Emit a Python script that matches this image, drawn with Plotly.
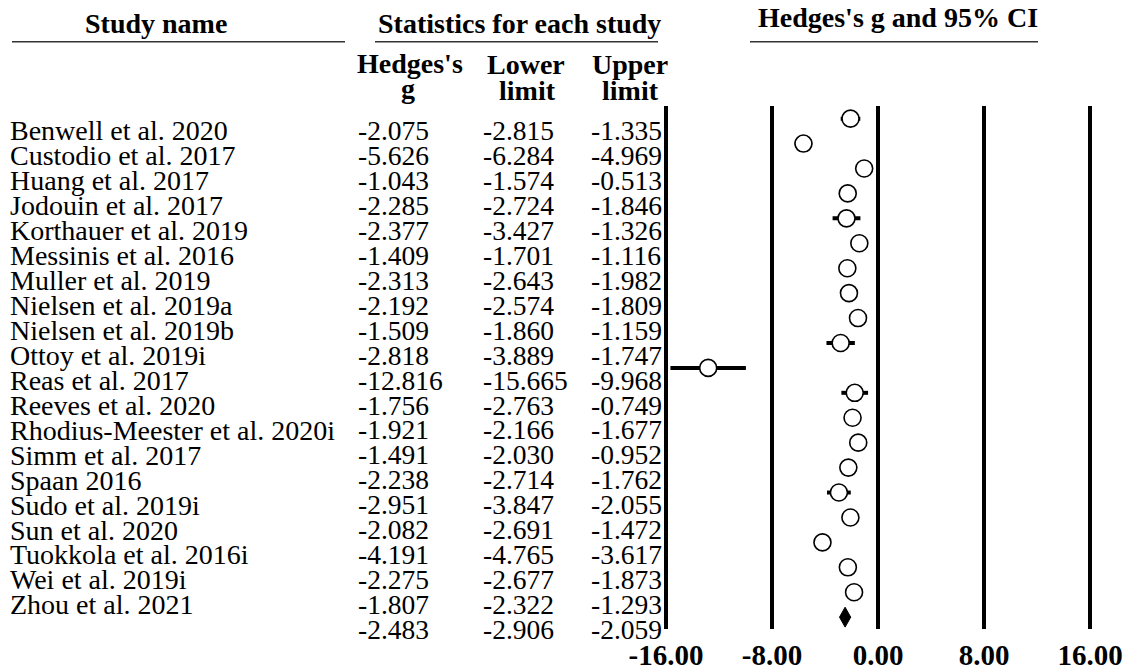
import plotly.graph_objects as go

# ---------------- data ----------------
STUDIES = [
    "Benwell et al. 2020", "Custodio et al. 2017", "Huang et al. 2017", "Jodouin et al. 2017",
    "Korthauer et al. 2019", "Messinis et al. 2016", "Muller et al. 2019", "Nielsen et al. 2019a",
    "Nielsen et al. 2019b", "Ottoy et al. 2019i", "Reas et al. 2017", "Reeves et al. 2020",
    "Rhodius-Meester et al. 2020i", "Simm et al. 2017", "Spaan 2016", "Sudo et al. 2019i",
    "Sun et al. 2020", "Tuokkola et al. 2016i", "Wei et al. 2019i", "Zhou et al. 2021",
]
HEDGES_G = [-2.075, -5.626, -1.043, -2.285, -2.377, -1.409, -2.313, -2.192, -1.509, -2.818,
            -12.816, -1.756, -1.921, -1.491, -2.238, -2.951, -2.082, -4.191, -2.275, -1.807]
LOWER = [-2.815, -6.284, -1.574, -2.724, -3.427, -1.701, -2.643, -2.574, -1.860, -3.889,
         -15.665, -2.763, -2.166, -2.030, -2.714, -3.847, -2.691, -4.765, -2.677, -2.322]
UPPER = [-1.335, -4.969, -0.513, -1.846, -1.326, -1.116, -1.982, -1.809, -1.159, -1.747,
         -9.968, -0.749, -1.677, -0.952, -1.762, -2.055, -1.472, -3.617, -1.873, -1.293]
SUMMARY_G = -2.483
SUMMARY_LOWER = -2.906
SUMMARY_UPPER = -2.059
AXIS_TICKS = [-16, -8, 0, 8, 16]

# ---------------- geometry ----------------
W, H = 1137, 671
ZERO_PX, PX_PER_UNIT = 878.0, 13.25
ROW_PX = 25.0
FOREST_TOP, FOREST_BOT = 106.5, 630.5
TEXT_ROW0, TEXT_DY = 133.3, 25.05
SERIF = "Liberation Serif, Times New Roman, serif"

n = len(STUDIES)
rows = list(range(n))
summary_row = n

fig = go.Figure()

# CI lines + open circles
fig.add_trace(go.Scatter(
    x=HEDGES_G, y=rows, mode="markers",
    marker=dict(symbol="circle", size=17, color="white", line=dict(color="black", width=1.6)),
    error_x=dict(type="data", symmetric=False,
                 array=[u - g for u, g in zip(UPPER, HEDGES_G)],
                 arrayminus=[g - l for g, l in zip(HEDGES_G, LOWER)],
                 color="black", thickness=4, width=0),
    cliponaxis=False, hoverinfo="skip", showlegend=False,
    xaxis="x", yaxis="y",
))
# summary diamond
fig.add_trace(go.Scatter(
    x=[SUMMARY_LOWER, SUMMARY_G, SUMMARY_UPPER, SUMMARY_G, SUMMARY_LOWER],
    y=[summary_row, summary_row - 0.4, summary_row, summary_row + 0.4, summary_row],
    mode="lines", fill="toself", fillcolor="black",
    line=dict(color="black", width=1), hoverinfo="skip", showlegend=False,
    xaxis="x", yaxis="y",
))

# table columns (text)
def fmt(v):
    return f"{v:.3f}"

col_font = dict(family=SERIF, size=27.5, color="black")
fig.add_trace(go.Scatter(
    x=[10] * n, y=rows, text=STUDIES, mode="text", textposition="middle right",
    textfont=dict(family=SERIF, size=28, color="black"),
    cliponaxis=False, hoverinfo="skip", showlegend=False, xaxis="x2", yaxis="y3"))
for xpos, vals, summ in [(358, HEDGES_G, SUMMARY_G), (483, LOWER, SUMMARY_LOWER), (591, UPPER, SUMMARY_UPPER)]:
    fig.add_trace(go.Scatter(
        x=[xpos] * (n + 1), y=rows + [summary_row], text=[fmt(v) for v in vals] + [fmt(summ)],
        mode="text", textposition="middle right", textfont=col_font,
        cliponaxis=False, hoverinfo="skip", showlegend=False, xaxis="x2", yaxis="y3"))

# ---------------- headers ----------------
def px_x(p):
    return p / W

def px_y(p):
    return 1 - p / H

hdr_font = dict(family=SERIF, size=28, color="black", weight="bold")
headers = [
    ("Study name", 156, 23.5),
    ("Statistics for each study", 519.5, 24),
    ("Hedges's g and 95% CI", 898, 17.5),
    ("Hedges's", 410, 64),
    ("g", 408, 89),
    ("Lower", 526, 64.5),
    ("limit", 527, 90.5),
    ("Upper", 630, 64.5),
    ("limit", 630, 90.5),
]
annotations = []
for txt, x, y in headers:
    annotations.append(dict(text=txt, x=px_x(x), y=px_y(y), xref="paper", yref="paper",
                            xanchor="center", yanchor="middle", showarrow=False, font=hdr_font))

shapes = []
for x0, x1 in [(12, 345), (375, 658), (750, 1038)]:
    shapes.append(dict(type="line", xref="paper", yref="paper", x0=px_x(x0), x1=px_x(x1),
                       y0=px_y(42), y1=px_y(42), line=dict(color="#333333", width=1.5)))

fig.update_layout(
    width=W, height=H, margin=dict(l=0, r=0, t=0, b=0),
    paper_bgcolor="white", plot_bgcolor="rgba(0,0,0,0)",
    annotations=annotations, shapes=shapes,
    xaxis=dict(domain=[0, 1], range=[(0 - ZERO_PX) / PX_PER_UNIT, (W - ZERO_PX) / PX_PER_UNIT],
               tickvals=AXIS_TICKS, ticktext=[f"{t:.2f}" for t in AXIS_TICKS],
               tickfont=dict(family=SERIF, size=29, color="black", weight="bold"),
               showgrid=True, gridcolor="black", gridwidth=3.5, zeroline=False, showline=False,
               ticks="", ticklabelstandoff=6, fixedrange=True, anchor="y"),
    yaxis=dict(domain=[1 - FOREST_BOT / H, 1 - FOREST_TOP / H],
               range=[(FOREST_BOT - 119) / ROW_PX, (FOREST_TOP - 119) / ROW_PX],
               visible=False, showgrid=False, zeroline=False, fixedrange=True, anchor="x"),
    xaxis2=dict(domain=[0, 1], range=[0, W], visible=False, showgrid=False, zeroline=False,
                fixedrange=True, anchor="y3"),
    yaxis3=dict(domain=[0, 1], range=[(H - TEXT_ROW0) / TEXT_DY, -TEXT_ROW0 / TEXT_DY],
                visible=False, showgrid=False, zeroline=False, fixedrange=True, anchor="x2"),
)

fig.write_html("out.html", config={"displayModeBar": False},
               post_script="document.body.style.margin='0px';document.body.style.overflow='hidden';")
